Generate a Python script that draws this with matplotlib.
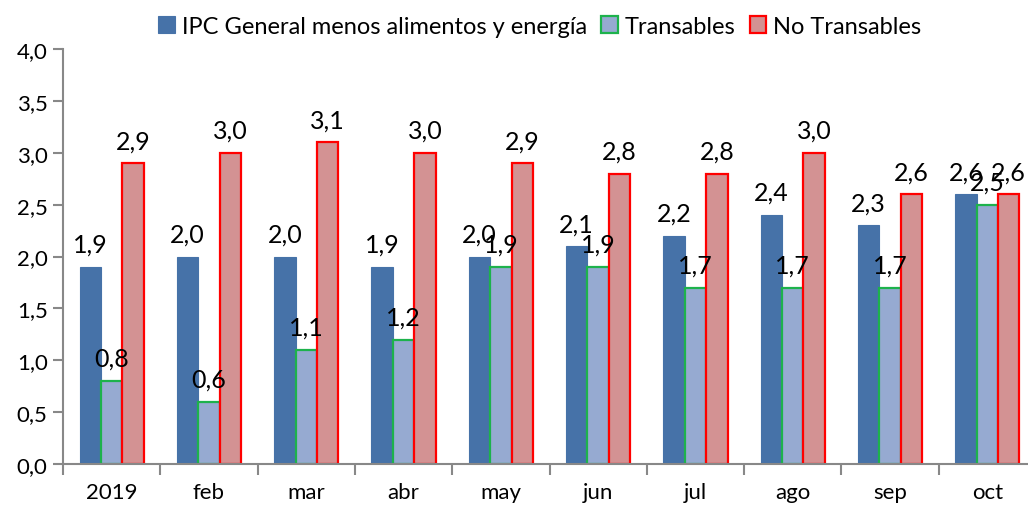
import matplotlib
matplotlib.use("Agg")
import matplotlib.pyplot as plt
import numpy as np
from matplotlib.patches import Patch
from matplotlib.ticker import FuncFormatter, FixedLocator

plt.rcParams['font.family'] = ['Lato', 'DejaVu Sans']

categories = ["2019", "feb", "mar", "abr", "may", "jun", "jul", "ago", "sep", "oct"]
series_names = ["IPC General menos alimentos y energía", "Transables", "No Transables"]
ipc_core = [1.9, 2.0, 2.0, 1.9, 2.0, 2.1, 2.2, 2.4, 2.3, 2.6]
transables = [0.8, 0.6, 1.1, 1.2, 1.9, 1.9, 1.7, 1.7, 1.7, 2.5]
no_transables = [2.9, 3.0, 3.1, 3.0, 2.9, 2.8, 2.8, 3.0, 2.6, 2.6]

faces = ["#4672A8", "#96AAD1", "#D39293"]
edges = ["#4672A8", "#1DB24C", "#FF0000"]

fig = plt.figure(figsize=(10.28, 5.06), dpi=100)
ax = fig.add_axes([63/1028, 41/506, 973/1028, 415/506])

x = np.arange(len(categories))
w = 0.22
data = [ipc_core, transables, no_transables]
for i, (vals, fc, ec) in enumerate(zip(data, faces, edges)):
    xs = x + (i - 1) * w
    lw = 0.8 if i == 0 else 1.6
    bars = ax.bar(xs, vals, width=w, color=fc, edgecolor=ec, linewidth=lw, zorder=2)
    for b, v in zip(bars, vals):
        ax.annotate(f"{v:.1f}".replace(".", ","), (b.get_x() + b.get_width() / 2, v),
                    xytext=(0, 11), textcoords="offset pixels", ha="center", va="bottom",
                    fontsize=18, color="black", zorder=3)

ax.set_xlim(-0.5, len(categories) - 0.5)
ax.set_ylim(0, 4.0)
ax.set_yticks(np.arange(0, 4.01, 0.5))
ax.yaxis.set_major_formatter(FuncFormatter(lambda v, p: f"{v:.1f}".replace(".", ",")))
ax.set_xticks(x)
ax.set_xticklabels(categories)
ax.xaxis.set_minor_locator(FixedLocator(np.arange(-0.5, len(categories), 1.0)))
ax.tick_params(axis="x", which="major", length=0, pad=13, labelsize=16)
ax.tick_params(axis="x", which="minor", length=8, width=1.5, color="#888888", direction="out")
ax.tick_params(axis="y", length=7, width=1.5, color="#888888", labelsize=16, pad=4)

for s in ["top", "right"]:
    ax.spines[s].set_visible(False)
for s in ["left", "bottom"]:
    ax.spines[s].set_color("#888888")
    ax.spines[s].set_linewidth(1.5)

handles = [Patch(facecolor=fc, edgecolor=ec, linewidth=1.6 if i else 0.8) for i, (fc, ec) in enumerate(zip(faces, edges))]
fig.legend(handles, series_names, loc="center", bbox_to_anchor=(540/1028, 1 - 27/506),
           ncol=3, frameon=False, fontsize=17, handlelength=0.7, handleheight=0.7,
           handletextpad=0.3, columnspacing=0.6, borderaxespad=0)

fig.savefig("out.png", dpi=100)
